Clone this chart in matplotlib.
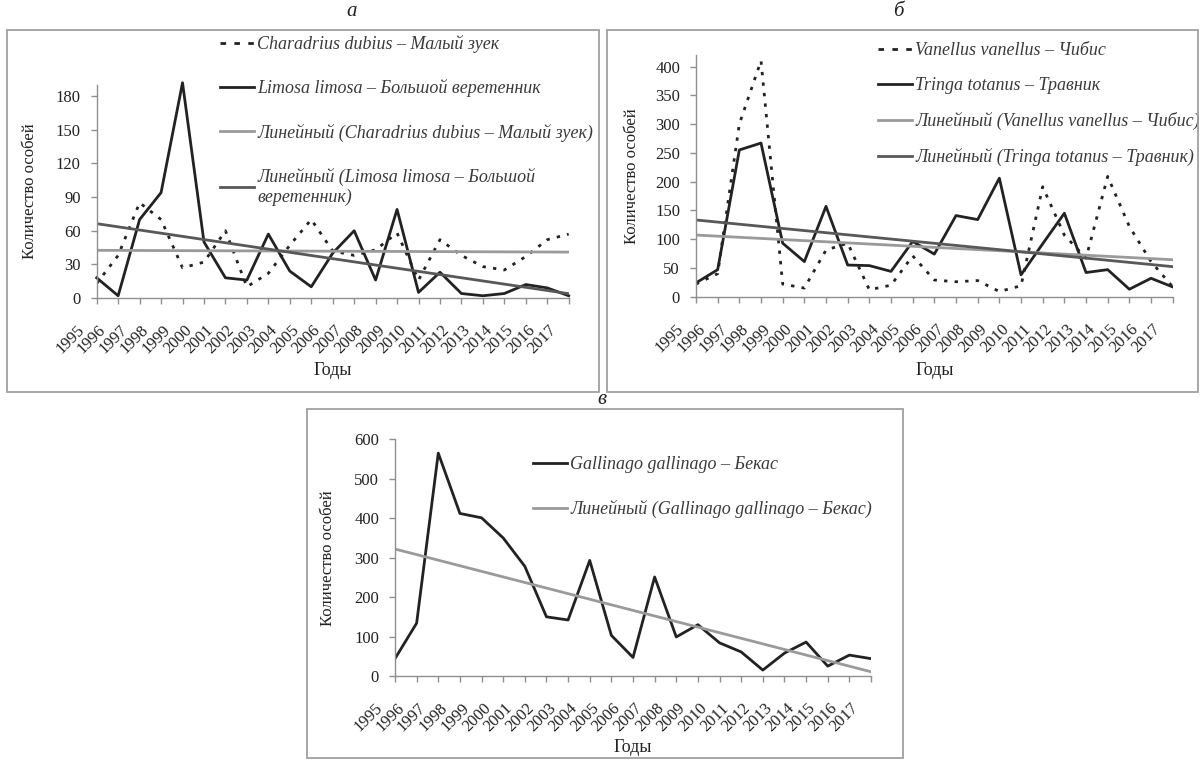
import numpy as np
import matplotlib
matplotlib.use('Agg')
from matplotlib import pyplot as plt
from matplotlib.lines import Line2D
from matplotlib.patches import Rectangle
from matplotlib.transforms import ScaledTranslation

plt.rcParams['font.family'] = ['Liberation Serif', 'DejaVu Serif']

W, H = 1203, 760

years = [str(y) for y in range(1995, 2018)]

# counts per year
charadrius = [13, 38, 85, 70, 27, 32, 60, 10, 22, 47, 70, 42, 38, 43, 58, 16, 52, 38, 28, 25, 37, 52, 57]
limosa = [18, 2, 70, 94, 192, 50, 18, 16, 57, 24, 10, 40, 60, 16, 79, 5, 23, 4, 2, 4, 12, 9, 2]
vanellus = [22, 40, 300, 410, 22, 15, 81, 93, 12, 20, 71, 29, 26, 28, 9, 19, 191, 107, 67, 209, 122, 61, 17]
tringa = [24, 47, 255, 267, 93, 61, 157, 55, 54, 44, 96, 74, 141, 134, 206, 38, 92, 145, 42, 47, 13, 32, 17]
gallinago = [44, 134, 565, 412, 401, 350, 278, 150, 142, 293, 103, 47, 251, 99, 130, 84, 61, 15, 58, 86, 25, 53, 44]

DARK = '#222222'
TREND_LIGHT = '#9a9a9a'
TREND_DARK = '#585858'
AXIS = '#8f8f8f'
TEXT = '#3a3a3a'
DOTS = (0, (1.2, 2.6))

fig = plt.figure(figsize=(W / 100, H / 100), dpi=100)


def px_axes(left, top, right, bottom):
    return fig.add_axes([left / W, 1 - bottom / H, (right - left) / W, (bottom - top) / H])


def trend(values):
    x = np.arange(len(values))
    k, b = np.polyfit(x, values, 1)
    return k * x + b


def style(ax, ymax, yticks, ylab_x, xlab_y):
    x = np.arange(len(years))
    ax.set_xlim(0, len(years) - 1)
    ax.set_ylim(0, ymax)
    ax.set_yticks(yticks)
    ax.set_xticks(x)
    ax.set_xticklabels(years, rotation=45, ha='right')
    for s in ['top', 'right']:
        ax.spines[s].set_visible(False)
    for s in ['left', 'bottom']:
        ax.spines[s].set_color(AXIS)
        ax.spines[s].set_linewidth(1.0)
    ax.tick_params(axis='both', colors=AXIS, labelcolor=DARK, labelsize=12, length=4.5, width=1.0)
    ax.tick_params(axis='x', pad=13)
    ax.tick_params(axis='y', pad=7)
    shift = ScaledTranslation(-0.09, 0, fig.dpi_scale_trans)
    for lab in ax.get_xticklabels():
        lab.set_transform(lab.get_transform() + shift)
    pos = ax.get_position()
    fig.text(ylab_x / W, pos.y0 + pos.height / 2, 'Количество особей', rotation=90,
             ha='center', va='center', fontsize=12, color=DARK)
    fig.text((pos.x0 + pos.x1) / 2, 1 - xlab_y / H, 'Годы', ha='center', va='center',
             fontsize=13, color=DARK)
    ax.patch.set_alpha(0)


def box(left, top, right, bottom):
    fig.add_artist(Rectangle((left / W, 1 - bottom / H), (right - left) / W, (bottom - top) / H,
                             transform=fig.transFigure, fill=False, edgecolor='#a0a0a0', linewidth=1.3))


box(7, 30, 599, 392)
box(607, 30, 1198, 392)
box(307, 409, 903, 758)

for txt, x, y in [('а', 352, 11), ('б', 898, 11), ('в', 602, 399)]:
    fig.text(x / W, 1 - y / H, txt, ha='center', va='center', fontsize=15, style='italic', color=DARK)

x = np.arange(len(years))
leg_kw = dict(frameon=False, borderpad=0, borderaxespad=0, handletextpad=0.15,
              handlelength=1.9, prop={'style': 'italic', 'size': 13}, labelcolor=TEXT,
              bbox_transform=fig.transFigure, loc='upper left')

# а
ax = px_axes(96.7, 85, 568.7, 298)
ax.plot(x, charadrius, color=DARK, lw=2, linestyle=DOTS)
ax.plot(x, limosa, color=DARK, lw=2, clip_on=False)
ax.plot(x, trend(charadrius), color=TREND_LIGHT, lw=2)
ax.plot(x, trend(limosa), color=TREND_DARK, lw=2)
style(ax, 190, range(0, 181, 30), 30, 370)
ax.legend([Line2D([], [], color=DARK, lw=2, linestyle=(0, (2, 3))),
           Line2D([], [], color=DARK, lw=2),
           Line2D([], [], color=TREND_LIGHT, lw=2),
           Line2D([], [], color=TREND_DARK, lw=2)],
          ['Charadrius dubius – Малый зуек', 'Limosa limosa – Большой веретенник',
           'Линейный (Charadrius dubius – Малый зуек)',
           'Линейный (Limosa limosa – Большой\nверетенник)'],
          bbox_to_anchor=(220 / W, 1 - 35 / H), labelspacing=1.45, **leg_kw)

# б
ax = px_axes(696, 55, 1172.7, 296.7)
ax.plot(x, vanellus, color=DARK, lw=2, linestyle=DOTS)
ax.plot(x, tringa, color=DARK, lw=2)
ax.plot(x, trend(vanellus), color=TREND_LIGHT, lw=2)
ax.plot(x, trend(tringa), color=TREND_DARK, lw=2)
style(ax, 420, range(0, 401, 50), 632, 370)
ax.legend([Line2D([], [], color=DARK, lw=2, linestyle=(0, (2, 3))),
           Line2D([], [], color=DARK, lw=2),
           Line2D([], [], color=TREND_LIGHT, lw=2),
           Line2D([], [], color=TREND_DARK, lw=2)],
          ['Vanellus vanellus – Чибис', 'Tringa totanus – Травник',
           'Линейный (Vanellus vanellus – Чибис)', 'Линейный (Tringa totanus – Травник)'],
          bbox_to_anchor=(878 / W, 1 - 42 / H), labelspacing=1.0, **leg_kw)

# в
ax = px_axes(395, 439.3, 871, 676)
ax.plot(x, gallinago, color=DARK, lw=2)
ax.plot(x, trend(gallinago), color=TREND_LIGHT, lw=2)
style(ax, 600, range(0, 601, 100), 328, 747)
ax.legend([Line2D([], [], color=DARK, lw=2),
           Line2D([], [], color=TREND_LIGHT, lw=2)],
          ['Gallinago gallinago – Бекас', 'Линейный (Gallinago gallinago – Бекас)'],
          bbox_to_anchor=(533 / W, 1 - 456 / H), labelspacing=1.5, **leg_kw)

fig.savefig('out.png', dpi=100)
